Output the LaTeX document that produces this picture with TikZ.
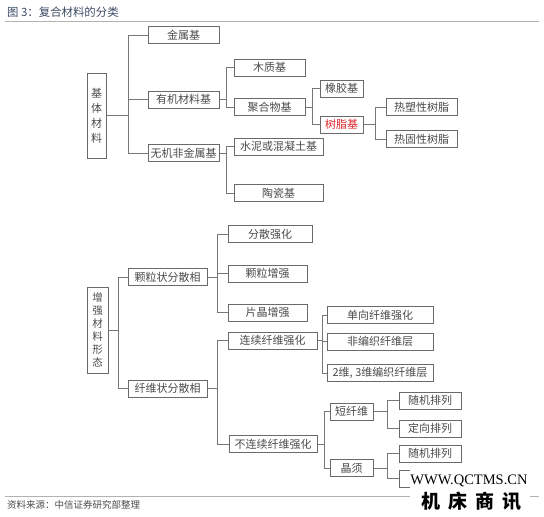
\documentclass[tikz,border=0pt]{standalone}
\usepackage{fontspec}
\setmainfont{Liberation Serif}
\newfontfamily\cjk{Noto Sans CJK SC}
\definecolor{boxgray}{HTML}{6A6A6A}
\definecolor{linegray}{HTML}{777777}
\definecolor{txtgray}{HTML}{4A4A4A}
\definecolor{titleblue}{HTML}{3C4A66}
\definecolor{resinred}{HTML}{E0262B}
\tikzset{
  box/.style={draw=boxgray, line width=1pt, minimum height=17pt, inner sep=0pt,
    text=txtgray, font=\cjk\fontsize{11}{12}\selectfont},
  vbox/.style={box, align=center},
  link/.style={draw=linegray, line width=1pt},
  rule/.style={draw=gray!60, line width=0.8pt}
}
\begin{document}
\begin{tikzpicture}
   [x=1pt,y=-1pt]
   \useasboundingbox (0,0) rectangle (544,517);

   % title and source
   \node[anchor=west, inner sep=0pt, text=titleblue, font=\cjk\fontsize{11.4}{12}\selectfont] (title) at (7,12.5) {图 3：复合材料的分类};
   \draw[rule] (5,21.7) -- (539,21.7);
   \draw[rule] (5,496.7) -- (539,496.7);
   \node[anchor=west, inner sep=0pt, text=txtgray, font=\cjk\fontsize{9.5}{11}\selectfont] (source) at (7,504.5) {资料来源：中信证券研究部整理};

   % matrix materials
   \node[vbox, minimum width=19pt, minimum height=85pt, font=\cjk\fontsize{11}{15}\selectfont] (jt) at (96.5,115.5) {基\\体\\材\\料};
   \node[box, minimum width=71pt] (jsj) at (183.5,35) {金属基};
   \node[box, minimum width=71pt] (yj) at (183.5,99.5) {有机材料基};
   \node[box, minimum width=71pt] (wj) at (183.5,153.3) {无机非金属基};
   \node[box, minimum width=71pt] (mz) at (269.5,67.5) {木质基};
   \node[box, minimum width=71pt] (jh) at (269.5,107) {聚合物基};
   \node[box, minimum width=89pt] (sn) at (278.5,146.5) {水泥或混凝土基};
   \node[box, minimum width=89pt] (tc) at (278.5,193) {陶瓷基};
   \node[box, minimum width=43pt] (xj) at (341.5,88.5) {橡胶基};
   \node[box, minimum width=43pt, text=resinred] (sz) at (341.5,124.5) {树脂基};
   \node[box, minimum width=71pt] (rs) at (421.5,107) {热塑性树脂};
   \node[box, minimum width=71pt] (rg) at (421.5,139) {热固性树脂};

   \draw[link] (jt.east) -- ++(21.7,0) coordinate (jtS);
   \foreach \c in {jsj,yj,wj} \draw[link] (jtS) |- (\c.west);
   \draw[link] (yj.east) -- ++(7,0) coordinate (yjS);
   \foreach \c in {mz,jh} \draw[link] (yjS) |- (\c.west);
   \draw[link] (wj.east) -- ++(7,0) coordinate (wjS);
   \foreach \c in {sn,tc} \draw[link] (wjS) |- (\c.west);
   \draw[link] (jh.east) -- ++(7.3,0) coordinate (jhS);
   \foreach \c in {xj,sz} \draw[link] (jhS) |- (\c.west);
   \draw[link] (sz.east) -- ++(12,0) coordinate (szS);
   \foreach \c in {rs,rg} \draw[link] (szS) |- (\c.west);

   % reinforcement forms
   \node[vbox, minimum width=21pt, minimum height=86pt, font=\cjk\fontsize{10.5}{13}\selectfont] (zq) at (97.5,330) {增\\强\\材\\料\\形\\态};
   \node[box, minimum width=79pt] (kl) at (167.5,277.3) {颗粒状分散相};
   \node[box, minimum width=79pt] (xw) at (167.5,388.5) {纤维状分散相};
   \node[box, minimum width=84pt] (fs) at (270,234) {分散强化};
   \node[box, minimum width=79pt] (klzq) at (267.5,273.5) {颗粒增强};
   \node[box, minimum width=79pt] (pj) at (267.5,312.5) {片晶增强};
   \node[box, minimum width=89pt] (lx) at (272.5,340.5) {连续纤维强化};
   \node[box, minimum width=88pt] (blx) at (273,444) {不连续纤维强化};
   \node[box, minimum width=106pt] (dx) at (380,315) {单向纤维强化};
   \node[box, minimum width=106pt] (fb) at (380,341.5) {非编织纤维层};
   \node[box, minimum width=106pt] (bz) at (380,373) {2维, 3维编织纤维层};
   \node[box, minimum width=43pt] (dxw) at (351.5,411.5) {短纤维};
   \node[box, minimum width=43pt] (js) at (351.5,468) {晶须};
   \node[box, minimum width=62pt] (sj1) at (430,400.5) {随机排列};
   \node[box, minimum width=62pt] (dx1) at (430,428.5) {定向排列};
   \node[box, minimum width=62pt] (sj2) at (430,453.5) {随机排列};
   \node[box, minimum width=62pt] (dx2) at (430,478.5) {};

   \draw[link] (zq.east) -- ++(9.7,0) coordinate (zqS);
   \foreach \c in {kl,xw} \draw[link] (zqS) |- (\c.west);
   \draw[link] (kl.east) -- ++(10.3,0) coordinate (klS);
   \foreach \c in {fs,klzq,pj} \draw[link] (klS) |- (\c.west);
   \draw[link] (xw.east) -- ++(10,0) coordinate (xwS);
   \foreach \c in {lx,blx} \draw[link] (xwS) |- (\c.west);
   \draw[link] (lx.east) -- ++(5.3,0) coordinate (lxS);
   \foreach \c in {dx,fb,bz} \draw[link] (lxS) |- (\c.west);
   \draw[link] (blx.east) -- ++(7,0) coordinate (blxS);
   \foreach \c in {dxw,js} \draw[link] (blxS) |- (\c.west);
   \draw[link] (dxw.east) -- ++(13.7,0) coordinate (dxwS);
   \foreach \c in {sj1,dx1} \draw[link] (dxwS) |- (\c.west);
   \draw[link] (js.east) -- ++(14,0) coordinate (jsS);
   \foreach \c in {sj2,dx2} \draw[link] (jsS) |- (\c.west);

   % watermark
   \fill[white] (410,469.5) rectangle (530,514);
   \node[inner sep=0pt, font=\fontsize{14.5}{16}\selectfont] (wmurl) at (469,481) {WWW.QCTMS.CN};
   \node[inner sep=0pt, font=\cjk\bfseries\fontsize{19}{20}\selectfont] (wmname) at (471,501) {机\hspace{8pt}床\hspace{8pt}商\hspace{8pt}讯};
\end{tikzpicture}
\end{document}
